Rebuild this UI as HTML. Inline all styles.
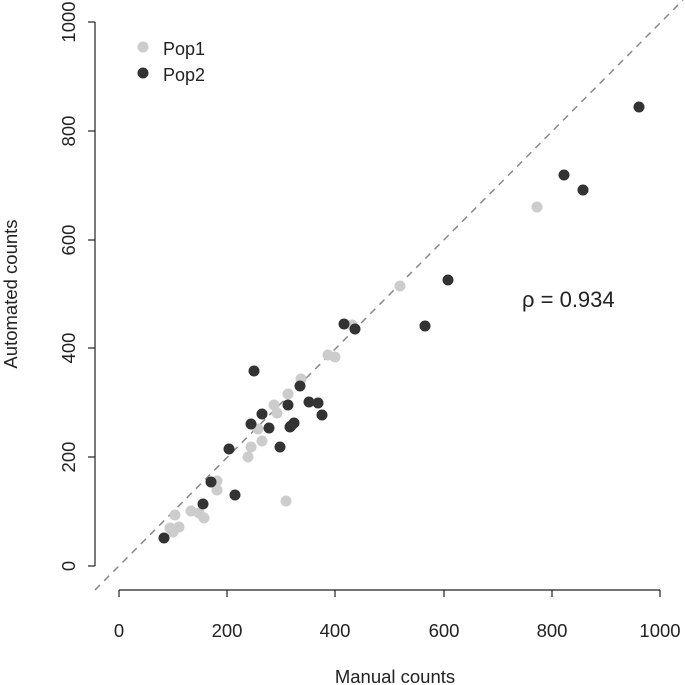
<!DOCTYPE html>
<html><head><style>body{margin:0;background:#fff}svg{display:block}text{font-family:"Liberation Sans",sans-serif;fill:#222}</style></head>
<body>
<svg width="685" height="685" viewBox="0 0 685 685">
<line x1="95" y1="590" x2="683" y2="0" stroke="#888" stroke-width="1.5" stroke-dasharray="7,6"/>
<g stroke="#222" stroke-width="1.2" fill="none">
<line x1="119" y1="590" x2="660" y2="590"/>
<line x1="119" y1="590" x2="119" y2="597"/><line x1="227" y1="590" x2="227" y2="597"/><line x1="335" y1="590" x2="335" y2="597"/><line x1="444" y1="590" x2="444" y2="597"/><line x1="552" y1="590" x2="552" y2="597"/><line x1="660" y1="590" x2="660" y2="597"/>
<line x1="95" y1="22" x2="95" y2="566"/>
<line x1="88" y1="566" x2="95" y2="566"/><line x1="88" y1="457" x2="95" y2="457"/><line x1="88" y1="348" x2="95" y2="348"/><line x1="88" y1="240" x2="95" y2="240"/><line x1="88" y1="131" x2="95" y2="131"/><line x1="88" y1="22" x2="95" y2="22"/>
</g>
<g font-size="18.5" text-anchor="middle">
<text x="119" y="637">0</text><text x="227" y="637">200</text><text x="335" y="637">400</text><text x="444" y="637">600</text><text x="552" y="637">800</text><text x="660" y="637">1000</text>
<text x="395" y="683">Manual counts</text>
<g transform="rotate(-90)">
<text x="-566" y="75">0</text><text x="-457" y="75">200</text><text x="-348" y="75">400</text><text x="-240" y="75">600</text><text x="-131" y="75">800</text><text x="-22" y="75">1000</text>
<text x="-294" y="17">Automated counts</text>
</g>
</g>
<text x="522" y="307" font-size="22">ρ = 0.934</text>
<g fill="#cccccc">
<circle cx="143" cy="47" r="5.5"/>
<circle cx="301" cy="379" r="5.5"/><circle cx="288" cy="394" r="5.5"/><circle cx="274" cy="405" r="5.5"/><circle cx="277" cy="413" r="5.5"/><circle cx="328" cy="355" r="5.5"/><circle cx="335" cy="357" r="5.5"/><circle cx="352" cy="325" r="5.5"/><circle cx="258" cy="429" r="5.5"/><circle cx="262" cy="441" r="5.5"/><circle cx="251" cy="447" r="5.5"/><circle cx="248" cy="457" r="5.5"/><circle cx="217" cy="481" r="5.5"/><circle cx="217" cy="490" r="5.5"/><circle cx="286" cy="501" r="5.5"/><circle cx="191" cy="511" r="5.5"/><circle cx="199" cy="513" r="5.5"/><circle cx="204" cy="518" r="5.5"/><circle cx="175" cy="515" r="5.5"/><circle cx="170" cy="528" r="5.5"/><circle cx="179" cy="527" r="5.5"/><circle cx="173" cy="532" r="5.5"/><circle cx="400" cy="286" r="5.5"/><circle cx="537" cy="207" r="5.5"/>
</g>
<g fill="#333">
<circle cx="143" cy="73" r="5.5"/>
<circle cx="344" cy="324" r="5.5"/><circle cx="355" cy="329" r="5.5"/><circle cx="254" cy="371" r="5.5"/><circle cx="300" cy="386" r="5.5"/><circle cx="309" cy="402" r="5.5"/><circle cx="318" cy="403" r="5.5"/><circle cx="322" cy="415" r="5.5"/><circle cx="288" cy="405" r="5.5"/><circle cx="262" cy="414" r="5.5"/><circle cx="251" cy="424" r="5.5"/><circle cx="269" cy="428" r="5.5"/><circle cx="291" cy="426" r="5.5"/><circle cx="294" cy="423" r="5.5"/><circle cx="290" cy="427" r="5.5"/><circle cx="229" cy="449" r="5.5"/><circle cx="280" cy="447" r="5.5"/><circle cx="211" cy="482" r="5.5"/><circle cx="235" cy="495" r="5.5"/><circle cx="203" cy="504" r="5.5"/><circle cx="164" cy="538" r="5.5"/><circle cx="425" cy="326" r="5.5"/><circle cx="448" cy="280" r="5.5"/><circle cx="564" cy="175" r="5.5"/><circle cx="583" cy="190" r="5.5"/><circle cx="639" cy="107" r="5.5"/>
</g>
<text x="163" y="55" font-size="18">Pop1</text>
<text x="163" y="81" font-size="18">Pop2</text>
</svg>
</body></html>
